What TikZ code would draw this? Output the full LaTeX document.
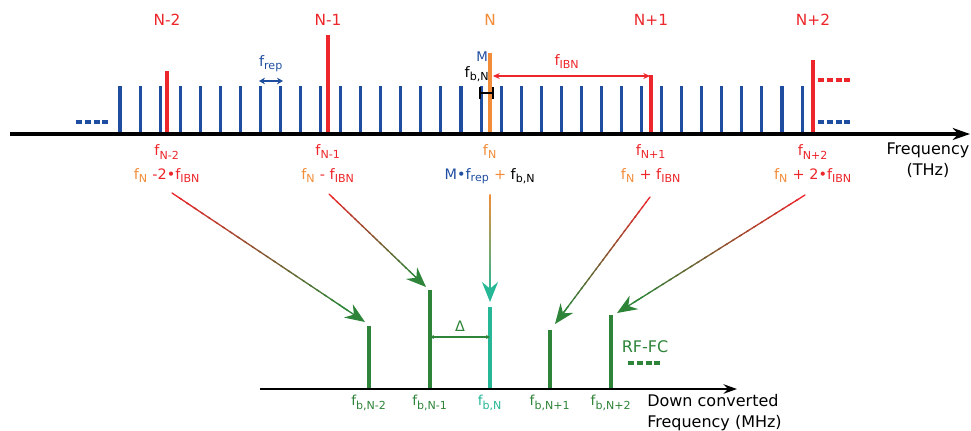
\documentclass[tikz,border=0pt]{standalone}
\usepackage{fontspec}
\setmainfont{DejaVu Sans}
\usepackage{tikz}
\usetikzlibrary{calc}
\usetikzlibrary{arrows.meta, positioning}

\definecolor{combblue}{RGB}{31,78,160}
\definecolor{ibnred}{RGB}{236,38,42}
\definecolor{fnorange}{RGB}{242,140,56}
\definecolor{rfgreen}{RGB}{46,132,56}
\definecolor{bnteal}{RGB}{38,184,150}
\newcommand{\sbs}[1]{\textsubscript{\fontsize{8.3}{9}\selectfont #1}}

\begin{document}
\begin{tikzpicture}[x=0.75pt,y=-0.75pt,>={Stealth[length=5pt,width=4.5pt]},
  comb/.style={combblue, line width=2.3pt},
  ibnline/.style={ibnred, line width=2.3pt},
  fnline/.style={fnorange, line width=2.3pt},
  rfline/.style={rfgreen, line width=2.3pt},
  dashbar/.style={line width=2.3pt, dash pattern=on 4.6pt off 2pt},
  toplbl/.style={inner sep=0pt, font=\fontsize{11.5}{13}\selectfont},
  flbl/.style={inner sep=0pt, font=\fontsize{10.8}{13}\selectfont},
  blbl/.style={inner sep=0pt, font=\fontsize{10.3}{12}\selectfont},
  axlbl/.style={inner sep=0pt, align=center, font=\fontsize{12}{15.5}\selectfont},
  convline/.style={line width=1pt, line cap=round},
  convtip/.style={line width=1pt, -{Stealth[length=15pt,width=12pt,inset=5pt]}}]
  \useasboundingbox (0,0) rectangle (971,430);

  % optical comb
  \foreach \k in {0,...,34}
    \draw[comb] (120+20.06*\k,134) -- (120+20.06*\k,86);
  \foreach \nm/\x/\h in {nm2/167/71, nm1/328/35, np1/651/75, np2/813/60} {
    \coordinate (\nm) at (\x,134);
    \draw[ibnline] (\nm) -- (\x,\h);
  }
  \coordinate (nc) at (490,134);
  \draw[fnline] (nc) -- (490,53);
  \draw[dashbar, combblue] (76,122) -- (108,122);
  \draw[dashbar, combblue] (818,122) -- (850,122);
  \draw[dashbar, ibnred] (818,80) -- (850,80);

  \coordinate (ax0) at (10,134);
  \coordinate (ax1) at (970,134);
  \draw[line width=2.4pt, -{Stealth[length=13pt,width=9pt]}] (ax0) -- (ax1);

  \node[toplbl, ibnred]   (tnm2) at (167,20) {N-2};
  \node[toplbl, ibnred]   (tnm1) at (328,20) {N-1};
  \node[toplbl, fnorange] (tnc)  at (490,20) {N};
  \node[toplbl, ibnred]   (tnp1) at (651,20) {N+1};
  \node[toplbl, ibnred]   (tnp2) at (813,20) {N+2};

  % spacings
  \coordinate (repL) at (259,81);
  \coordinate (repR) at (283,81);
  \draw[<->, combblue, line width=1.3pt, >={Stealth[length=4.5pt,width=5pt]}] (repL) -- (repR);
  \node[flbl, combblue, above=7pt of $(repL)!0.5!(repR)$] (frep) {f\sbs{rep}};

  \coordinate (ibnL) at (493,76);
  \coordinate (ibnR) at (650,76);
  \draw[<->, ibnred, line width=1pt] (ibnL) -- (ibnR);
  \node[flbl, ibnred] (fibn) at (567,62) {f\sbs{IBN}};

  \node[inner sep=0pt, combblue, font=\fontsize{10}{11}\selectfont] (mlbl) at (482,57) {M};
  \node[flbl] (fbn) at (477,74) {f\sbs{b,N}};
  \coordinate (bnL) at (479,93);
  \coordinate (bnR) at (494,93);
  \draw[|-|, line width=1.4pt, >={Bar[width=5pt]}] (bnL) -- (bnR);

  % comb line labels
  \node[flbl, ibnred]   (bnm2) at (167,152) {f\sbs{N-2}};
  \node[flbl, ibnred]   (bnm1) at (328,152) {f\sbs{N-1}};
  \node[flbl, fnorange] (bnc)  at (490,152) {f\sbs{N}};
  \node[flbl, ibnred]   (bnp1) at (651,152) {f\sbs{N+1}};
  \node[flbl, ibnred]   (bnp2) at (813,152) {f\sbs{N+2}};
  \node[flbl] (enm2) at (167,176) {\textcolor{fnorange}{f\sbs{N}} \textcolor{ibnred}{-2•f\sbs{IBN}}};
  \node[flbl] (enm1) at (328,176) {\textcolor{fnorange}{f\sbs{N}} \textcolor{ibnred}{- f\sbs{IBN}}};
  \node[flbl] (enc)  at (490,176) {\textcolor{combblue}{M•f\sbs{rep}} \textcolor{fnorange}{+} f\sbs{b,N}};
  \node[flbl] (enp1) at (651,176) {\textcolor{fnorange}{f\sbs{N}} \textcolor{ibnred}{+ f\sbs{IBN}}};
  \node[flbl] (enp2) at (813,176) {\textcolor{fnorange}{f\sbs{N}} \textcolor{ibnred}{+ 2•f\sbs{IBN}}};
  \node[axlbl] (thz) at (928,160) {Frequency\\(THz)};

  % down converted RF comb
  \foreach \nm/\x/\h in {dm2/369/326, dm1/430/290, dp1/550/330, dp2/611/315} {
    \coordinate (\nm) at (\x,389);
    \draw[rfline] (\nm) -- (\x,\h);
  }
  \coordinate (dc) at (490,389);
  \draw[bnteal, line width=2.3pt] (dc) -- (490,307);
  \coordinate (dax0) at (260,389);
  \coordinate (dax1) at (737,389);
  \draw[line width=1.6pt, -{Stealth[length=10pt,width=7pt]}] (dax0) -- (dax1);

  \coordinate (delL) at (430,337);
  \coordinate (delR) at (490,337);
  \draw[<->, rfgreen, line width=0.9pt, >={Stealth[length=3pt,width=3pt]}] (delL) -- (delR);
  \node[flbl, rfgreen, above=4pt of $(delL)!0.5!(delR)$] (del) {Δ};
  \node[axlbl, rfgreen] (rffc) at (645,347) {RF-FC};
  \draw[dashbar, rfgreen] (628,363) -- (660,363);

  \node[blbl, rfgreen] (lm2) at (369,403) {f\sbs{b,N-2}};
  \node[blbl, rfgreen] (lm1) at (430,403) {f\sbs{b,N-1}};
  \node[blbl, bnteal]  (lc)  at (490,403) {f\sbs{b,N}};
  \node[blbl, rfgreen] (lp1) at (550,403) {f\sbs{b,N+1}};
  \node[blbl, rfgreen] (lp2) at (611,403) {f\sbs{b,N+2}};
  \node[axlbl, align=left, anchor=north west] (mhz) at (647,394) {Down converted\\Frequency (MHz)};

  % down conversion arrows
  \coordinate (s1) at (172,193); \coordinate (t1) at (365,322);
  \coordinate (s2) at (329,194); \coordinate (t2) at (426,287);
  \coordinate (s3) at (490,194); \coordinate (t3) at (490,302);
  \coordinate (s4) at (650,197); \coordinate (t4) at (555,324);
  \coordinate (s5) at (805,195); \coordinate (t5) at (617,313);
  \foreach \s/\t in {s1/t1, s2/t2, s4/t4, s5/t5} {
    \foreach \i in {0,...,23} {
      \pgfmathsetmacro\pa{\i/24*0.9}
      \pgfmathsetmacro\pb{(\i+1.3)/24*0.9}
      \pgfmathtruncatemacro\mix{100-\i*100/23}
      \draw[convline, color={ibnred!\mix!rfgreen}] ($(\s)!\pa!(\t)$) -- ($(\s)!\pb!(\t)$);
    }
    \draw[convtip, rfgreen] ($(\s)!0.88!(\t)$) -- (\t);
  }
  \shade[top color=fnorange, bottom color=bnteal]
    ($(s3)+(-0.7,0)$) rectangle ($(s3)!0.9!(t3)+(0.7,0)$);
  \draw[convtip, bnteal] ($(s3)!0.88!(t3)$) -- (t3);
\end{tikzpicture}
\end{document}
